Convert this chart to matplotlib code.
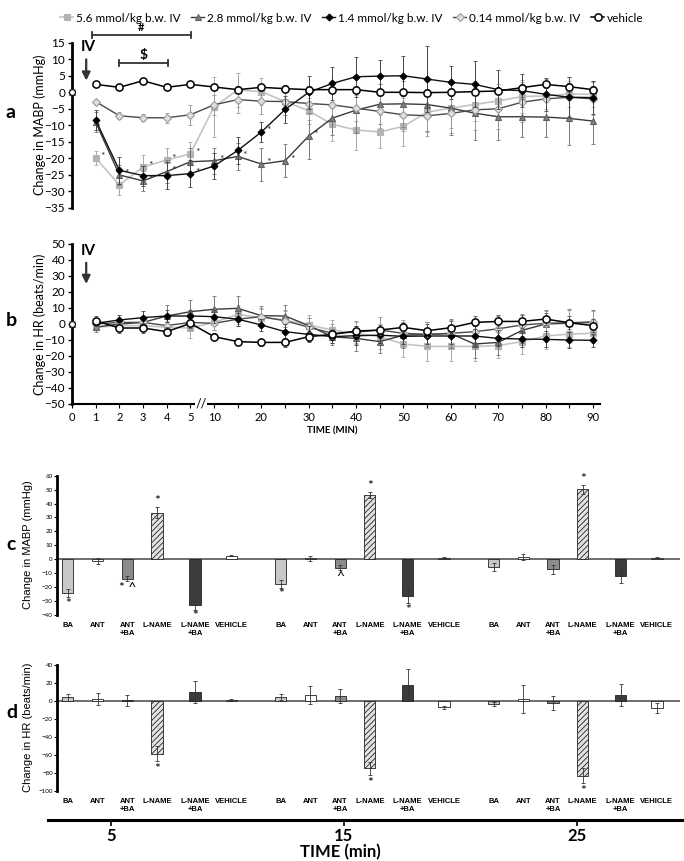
import matplotlib
matplotlib.use("Agg")
import matplotlib.pyplot as plt
import numpy as np

plt.rcParams["font.family"] = ["Lato", "DejaVu Sans"]
plt.rcParams["hatch.linewidth"] = 0.6

# ---------------------------------------------------------------------------
# Time course data (panels a, b)
# ---------------------------------------------------------------------------
minutes = [0, 1, 2, 3, 4, 5, 10, 15, 20, 25, 30, 35, 40, 45, 50, 55, 60, 65, 70, 75, 80, 85, 90]
doses = ["5.6 mmol/kg b.w. IV", "2.8 mmol/kg b.w. IV", "1.4 mmol/kg b.w. IV",
         "0.14 mmol/kg b.w. IV", "vehicle"]

mabp_56 = [0, -19.9, -28.0, -22.6, -20.5, -18.6, -4.4, 0.7, 0.2, -2.8, -5.6, -9.7, -11.4,
           -12.0, -10.3, -6.0, -4.8, -3.7, -2.6, -1.3, -1.1, -0.5, -0.6]
mabp_28 = [0, -9.0, -25.0, -26.8, -24.0, -21.0, -20.7, -19.4, -21.7, -20.7, -13.2, -7.8, -5.4,
           -3.6, -3.5, -3.7, -4.8, -6.3, -7.4, -7.4, -7.5, -7.9, -8.7]
mabp_14 = [0, -8.4, -23.6, -25.2, -25.2, -24.6, -22.3, -17.6, -12.0, -5.2, 0.0, 2.7, 4.7,
           4.9, 5.0, 4.0, 3.0, 2.4, 0.8, 0.5, -0.6, -1.5, -1.6]
mabp_014 = [0, -2.8, -7.1, -7.7, -7.7, -6.8, -3.8, -2.2, -2.7, -2.8, -3.4, -3.8, -4.8,
            -5.8, -6.8, -7.1, -6.4, -5.3, -5.0, -3.0, -2.0, -1.5, -2.0]
mabp_veh = [0, 2.4, 1.5, 3.5, 1.5, 2.4, 1.6, 0.8, 1.5, 1.1, 0.8, 0.8, 0.8, 0.0, 0.0, -0.1,
            0.0, 0.2, 0.4, 1.4, 2.4, 1.7, 0.8]

mabp_56_err = [0, 2, 3, 3.5, 3.5, 3.5, 9, 5, 4, 4, 4, 5, 6, 5, 6, 6, 6, 5, 5, 5, 4, 4, 4]
mabp_28_err = [0, 3, 3, 3, 3.5, 4, 4, 4, 5, 5, 7, 5, 7, 6, 7, 8, 8, 8, 7, 6, 6, 8, 7]
mabp_14_err = [0, 3, 4, 3, 4, 4, 4, 4, 3, 4, 5, 5, 6, 5, 6, 10, 5, 7, 6, 5, 5, 6, 5]
mabp_014_err = [0, 0.5, 1, 1, 1.5, 3, 3, 4, 4, 4, 5, 4, 4, 5, 5, 6, 6, 6, 6, 6, 6, 6, 5]
mabp_veh_err = [0, 0.8, 0.8, 0.8, 0.8, 0.8, 1, 1, 1, 1, 1, 1, 1, 1, 1, 1, 1, 1, 1, 1, 1, 1, 1]

hr_56 = [0, -2, -1, -1, -2, -2.5, 1, 6, 4, 2.5, -0.6, -3.8, -5.8, -7.9, -12.5, -14, -14,
         -14, -13.5, -11, -7.5, -6.3, -5.8]
hr_28 = [0, -2, 0, 1, 5, 7.7, 9.2, 9.8, 5.2, 5.0, -1.0, -8.0, -9.0, -11.0, -7.0, -6.5, -6.0,
         -12.5, -11.5, -4.0, 0.0, 0.5, 1.0]
hr_14 = [0, 0.5, 2.5, 4, 5, 5, 4.6, 3, -0.6, -4.8, -6.5, -7.9, -7.3, -7.0, -7.7, -7.5,
         -7.5, -7.5, -9.0, -9.4, -9.6, -10.0, -10.2]
hr_014 = [0, 0, 1, 1, -1, 1, 0.4, 3, 4.6, 2, -2, -5.8, -5, -3.8, -5.8, -6.5, -5.8, -4.8,
          -3, -0.6, 0.4, 0.8, 1.3]
hr_veh = [0, 2, -2.5, -2.5, -4.8, 0.4, -7.9, -11, -11.5, -11.5, -7.9, -6.5, -4.4, -3.8,
          -2.1, -4.2, -2.3, 1, 1.6, 1.6, 3.1, 0.8, -1]

hr_56_err = [0, 2, 3, 3, 4, 6, 5, 6, 6, 6, 6, 6, 7, 8, 8, 9, 9, 9, 8, 8, 8, 8, 6]
hr_28_err = [0, 3, 4, 4, 7, 7, 8, 8, 6, 7, 5, 5, 8, 7, 8, 8, 9, 9, 8, 8, 9, 9, 8]
hr_14_err = [0, 2, 3, 4, 4, 4, 4, 4, 4, 5, 5, 4, 6, 5, 5, 5, 5, 6, 5, 5, 5, 5, 4]
hr_014_err = [0, 2, 3, 4, 4, 5, 4, 4, 5, 6, 6, 6, 7, 8, 8, 8, 8, 8, 8, 7, 8, 8, 7]
hr_veh_err = [0, 3, 3, 3, 3, 3, 2, 2, 2, 3, 3, 3, 3, 3, 3, 4, 4, 4, 4, 4, 4, 4, 4]

# indices (into minutes) that carry a significance star, per dose
star_idx = [[1, 3, 4, 5], [2, 3, 4, 6, 7, 8, 9, 10], [5, 8], [], []]

# ---------------------------------------------------------------------------
# Bar data (panels c, d)
# ---------------------------------------------------------------------------
treatments = ["BA", "ANT", "ANT\n+BA", "L-NAME", "L-NAME\n+BA", "VEHICLE"]
bar_times = [5, 15, 25]

mabp_bars = [[-24.5, -1.5, -14.1, 33.4, -33.3, 2.5],
             [-17.7, 0.5, -6.2, 46.3, -26.8, 0.8],
             [-5.7, 1.5, -7.4, 50.1, -12.4, 1.0]]
mabp_bars_err = [[3, 2, 2, 4, 3, 0.5], [3, 2, 2, 2, 5, 0.5], [3, 2, 3, 3, 5, 0.5]]
mabp_sig = [["*", "", "* ^", "*", "*", ""], ["*", "", "^", "*", "*", ""],
            ["", "", "", "*", "", ""]]

hr_bars = [[3.7, 2, 0.5, -58.6, 9.9, 0.5],
           [4, 6, 5, -75, 17.6, -7.3],
           [-3.5, 2, -2.5, -83, 6.6, -8]]
hr_bars_err = [[4, 7, 6, 8, 12, 1], [3, 10, 8, 7, 18, 2], [2, 15, 8, 8, 12, 6]]
hr_sig = [["", "", "", "*", "", ""], ["", "", "", "*", "", ""], ["", "", "", "*", "", ""]]

# ---------------------------------------------------------------------------
# Styles
# ---------------------------------------------------------------------------
styles = [
    dict(line="#c4c4c4", lw=1.2, marker="s", ms=5, mfc="#b3b3b3", mec="#b3b3b3", mew=0.8, ecolor="#a8a8a8", z=3),
    dict(line="#3a3a3a", lw=1.0, marker="^", ms=5, mfc="#808080", mec="#606060", mew=0.8, ecolor="#777777", z=4),
    dict(line="#111111", lw=1.0, marker="D", ms=3.5, mfc="#000000", mec="#000000", mew=0.8, ecolor="#444444", z=5),
    dict(line="#4a4a4a", lw=1.0, marker="D", ms=4, mfc="#dedede", mec="#9a9a9a", mew=0.8, ecolor="#999999", z=4),
    dict(line="#000000", lw=1.1, marker="o", ms=5.2, mfc="white", mec="#000000", mew=1.1, ecolor="#555555", z=6),
]
bar_colors = ["#c8c8c8", "white", "#8c8c8c", "#e2e2e2", "#3c3c3c", "white"]
bar_hatch = [None, None, None, "//////", None, None]
slot = [0, 0.9, 1.8, 2.7, 3.85, 4.95]   # bar positions inside a time group
group_step = 6.45

W, H = 684, 861
fig = plt.figure(figsize=(W / 100, H / 100), dpi=100)


def px_axes(left, top, right, bottom):
    return fig.add_axes([left / W, 1 - bottom / H, (right - left) / W, (bottom - top) / H])


def draw_course(ax, series, errs, stars=None):
    x = np.arange(len(minutes))
    handles = []
    for k, (vals, err, st) in enumerate(zip(series, errs, styles)):
        vals = np.asarray(vals, float)
        err = np.asarray(err, float)
        ax.errorbar(x[1:], vals[1:], yerr=err[1:], fmt="none", ecolor=st["ecolor"],
                    elinewidth=0.7, capsize=1.3, capthick=0.6, zorder=st["z"] - 0.5)
        h, = ax.plot(x[1:], vals[1:], color=st["line"], lw=st["lw"], marker=st["marker"],
                     ms=st["ms"], mfc=st["mfc"], mec=st["mec"], mew=st["mew"], zorder=st["z"])
        ax.plot(x[:1], vals[:1], ls="none", marker=st["marker"], ms=st["ms"] * 0.8,
                mfc=st["mfc"], mec=st["mec"], mew=0.8, zorder=st["z"], clip_on=False)
        handles.append(h)
        if stars:
            for i in stars[k]:
                ax.text(x[i] + 0.3, vals[i] + 0.4, "*", fontsize=7.5, color="#333333",
                        ha="center", va="center", zorder=8)
    ax.set_xlim(0, 22.3)
    ax.spines[["top", "right"]].set_visible(False)
    ax.spines["left"].set_linewidth(2)
    ax.tick_params(axis="y", labelsize=8.5, length=3, width=1, pad=2)
    return handles


# ---- panel a ----
ax_a = px_axes(72, 42.7, 600, 208)
handles = draw_course(ax_a, [mabp_56, mabp_28, mabp_14, mabp_014, mabp_veh],
                      [mabp_56_err, mabp_28_err, mabp_14_err, mabp_014_err, mabp_veh_err],
                      stars=star_idx)
ax_a.set_ylim(-35, 15)
ax_a.set_yticks(np.arange(-35, 16, 5))
ax_a.spines["bottom"].set_visible(False)
ax_a.set_xticks([])
ax_a.annotate("", xy=(0.6, 2.7), xytext=(0.6, 10.8),
              arrowprops=dict(arrowstyle="-|>", color="#333333", lw=1.6, mutation_scale=12))
ax_a.text(0.68, 13.6, "IV", fontsize=11, fontweight="bold", ha="center", va="center")
# significance brackets
for x0, x1, yb, sym, fs in [(0.84, 5.02, 17.3, "#", 8), (2.0, 4.05, 8.9, "$", 10)]:
    ax_a.plot([x0, x1], [yb, yb], color="#333333", lw=1.3, clip_on=False)
    ax_a.plot([x0, x0], [yb - 0.9, yb + 0.9], color="#333333", lw=1.3, clip_on=False)
    ax_a.plot([x1, x1], [yb - 0.9, yb + 0.9], color="#333333", lw=1.3, clip_on=False)
    ax_a.text((x0 + x1) / 2, yb + 0.6, sym, fontsize=fs, fontweight="bold",
              ha="center", va="bottom", clip_on=False)

# ---- panel b ----
ax_b = px_axes(72, 244, 600, 404)
draw_course(ax_b, [hr_56, hr_28, hr_14, hr_014, hr_veh],
            [hr_56_err, hr_28_err, hr_14_err, hr_014_err, hr_veh_err])
ax_b.set_ylim(-50, 50)
ax_b.set_yticks(np.arange(-50, 51, 10))
ax_b.spines["bottom"].set_linewidth(1.5)
major = [i for i, m in enumerate(minutes) if m <= 5 or m % 10 == 0]
ax_b.set_xticks(major)
ax_b.set_xticklabels([str(minutes[i]) for i in major], fontsize=8)
ax_b.set_xticks([i for i in range(len(minutes)) if i not in major], minor=True)
ax_b.tick_params(axis="x", which="both", length=3, width=0.8, pad=3)
ax_b.text(5.45, -50, "//", fontsize=9, ha="center", va="center", zorder=10,
          bbox=dict(facecolor="white", edgecolor="none", pad=0.5), clip_on=False)
ax_b.text(11, -67, "TIME (MIN)", fontsize=7, fontweight="bold", ha="center", va="center")
ax_b.annotate("", xy=(0.6, 23.3), xytext=(0.6, 40),
              arrowprops=dict(arrowstyle="-|>", color="#333333", lw=1.6, mutation_scale=12))
ax_b.text(0.68, 45.6, "IV", fontsize=11, fontweight="bold", ha="center", va="center")

fig.legend(handles, doses, loc="center", bbox_to_anchor=(352 / W, 1 - 18 / H), ncol=5,
           frameon=False, fontsize=8.5, handlelength=1.1, handletextpad=0.25,
           columnspacing=0.9, borderpad=0)

fig.text(40 / W, 1 - 125 / H, "Change in MABP (mmHg)", rotation=90, fontsize=9,
         ha="center", va="center")
fig.text(40 / W, 1 - 324 / H, "Change in HR (beats/min)", rotation=90, fontsize=9,
         ha="center", va="center")


# ---- panels c, d ----
def draw_bars(ax, vals, errs, sigs, pad):
    for g in range(len(bar_times)):
        for i in range(len(treatments)):
            xp = g * group_step + slot[i]
            v, e = vals[g][i], errs[g][i]
            ax.bar(xp, v, width=0.34, color=bar_colors[i], edgecolor="#222222",
                   linewidth=0.6, hatch=bar_hatch[i], zorder=3)
            ax.errorbar(xp, v, yerr=e, fmt="none", ecolor="#333333", elinewidth=0.6,
                        capsize=1.3, capthick=0.6, zorder=4)
            s = sigs[g][i]
            if s:
                if v >= 0:
                    ax.text(xp, v + e + pad * 0.3, s, fontsize=10, ha="center", va="bottom")
                else:
                    ax.text(xp, v - e - pad, s, fontsize=10, ha="center", va="top",
                            clip_on=False)
    xs = [g * group_step + s for g in range(len(bar_times)) for s in slot]
    ax.set_xticks(xs)
    ax.set_xticklabels(treatments * len(bar_times), fontsize=5.5, fontweight="bold",
                       family="Liberation Sans")
    ax.tick_params(axis="x", length=0, pad=5)
    ax.tick_params(axis="y", labelsize=4.5, length=2, width=0.8, pad=1)
    ax.axhline(0, color="#555555", lw=1.2, zorder=2)
    ax.set_xlim(-0.33, 18.55)
    ax.spines[["top", "right", "bottom"]].set_visible(False)
    ax.spines["left"].set_linewidth(2)


ax_c = px_axes(57, 475.7, 680, 614.7)
draw_bars(ax_c, mabp_bars, mabp_bars_err, mabp_sig, pad=0.3)
ax_c.set_ylim(-40, 60)
ax_c.set_yticks(np.arange(-40, 61, 10))

ax_d = px_axes(57, 664.7, 680, 791)
draw_bars(ax_d, hr_bars, hr_bars_err, hr_sig, pad=2.0)
ax_d.set_ylim(-100, 40)
ax_d.set_yticks(np.arange(-100, 41, 20))

fig.text(28 / W, 1 - 545 / H, "Change in MABP (mmHg)", rotation=90, fontsize=8,
         family="Liberation Sans", ha="center", va="center")
fig.text(28 / W, 1 - 727 / H, "Change in HR (beats/min)", rotation=90, fontsize=8,
         family="Liberation Sans", ha="center", va="center")

# shared time axis under c/d
ax_t = fig.add_axes([48 / W, 1 - 820 / H, 636 / W, 0.0001])
ax_t.set_xlim(2.3, 29.6)
ax_t.set_yticks([])
ax_t.spines[["top", "right", "left"]].set_visible(False)
ax_t.spines["bottom"].set_linewidth(2.2)
ax_t.set_xticks(bar_times)
ax_t.set_xticklabels([str(t) for t in bar_times], fontsize=12, fontweight="bold")
ax_t.tick_params(axis="x", length=4, width=1.2, pad=2)
ax_t.patch.set_visible(False)
fig.text(340 / W, 1 - 852 / H, "TIME (min)", fontsize=12, fontweight="bold",
         ha="center", va="center")

for lab, ypx in [("a", 112), ("b", 321), ("c", 545), ("d", 713)]:
    fig.text(6 / W, 1 - ypx / H, lab, fontsize=14, fontweight="bold", ha="left", va="center")

fig.savefig("out.png", dpi=100)
